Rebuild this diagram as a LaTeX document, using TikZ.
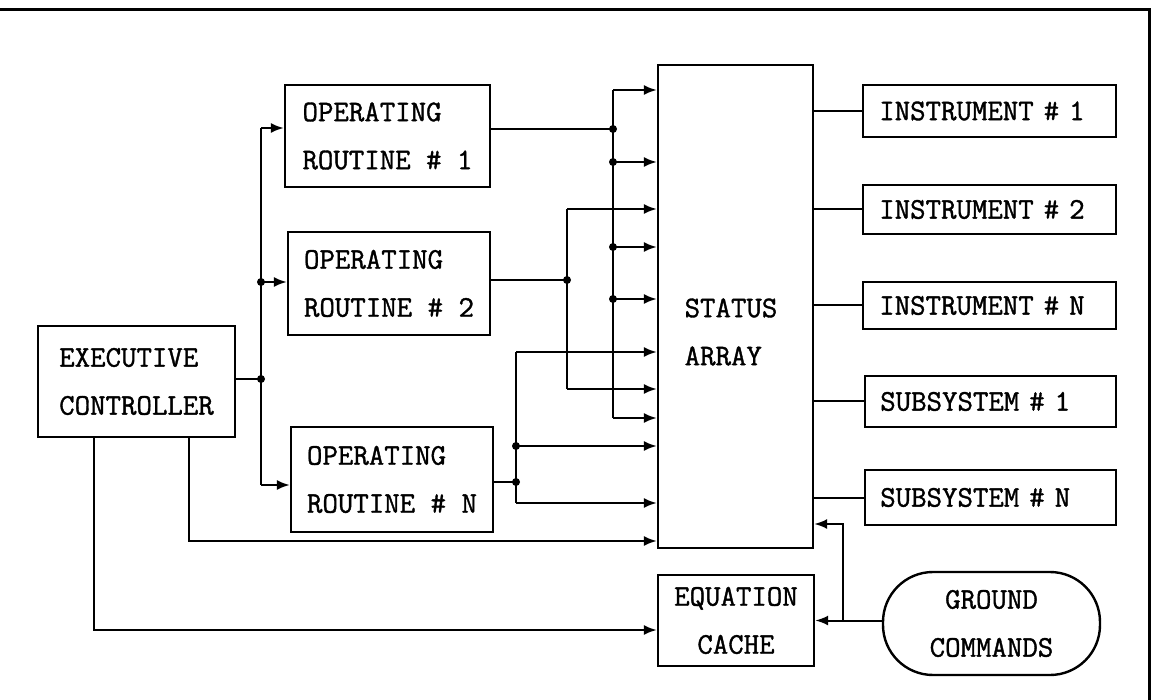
\documentclass[tikz,border=0pt]{standalone}
\usepackage{fontspec}
\newfontfamily\tw{Latin Modern Mono}[FakeBold=1.2]
\usetikzlibrary{arrows.meta}
\begin{document}
\begin{tikzpicture}[x=0.5pt,y=-0.5pt,line width=1pt,
  box/.style={draw,line width=1.2pt,font={\tw\fontsize{15}{24}\selectfont},align=left,inner sep=0pt},
  txt/.style={font={\tw\fontsize{15}{24}\selectfont},align=left,inner sep=0pt},
  arr/.style={-{Latex[length=6.5pt,width=5pt]}},
  dot/.style={circle,fill,inner sep=0pt,minimum size=4pt}]
\useasboundingbox (0,0) rectangle (1152,700);
% frame
\draw[line width=1.5pt] (0,10) -- (1149,10) -- (1149,700);
% boxes
\node[box,minimum width=98.5pt,minimum height=55.5pt] (exec) at (136.5,381.5) {EXECUTIVE\\CONTROLLER};
\node[box,minimum width=102.5pt,minimum height=51pt] (op1) at (387.5,136) {OPERATING\\ROUTINE \# 1};
\node[box,minimum width=101pt,minimum height=51.5pt] (op2) at (389,283.5) {OPERATING\\ROUTINE \# 2};
\node[box,minimum width=101pt,minimum height=52.5pt] (opN) at (392,479.5) {OPERATING\\ROUTINE \# N};
\node[draw,line width=1.2pt,minimum width=77.5pt,minimum height=241.5pt,inner sep=0pt] (status) at (735.5,306.5) {};
\node[txt] (stattxt) at (731,332) {STATUS\\ARRAY};
\node[box,text width=110.25pt,minimum width=126.5pt,minimum height=26pt] (inst1) at (989.5,111) {INSTRUMENT \# 1};
\node[box,text width=110.25pt,minimum width=126.5pt,minimum height=24.5pt] (inst2) at (989.5,209.5) {INSTRUMENT \# 2};
\node[box,text width=110.25pt,minimum width=126.5pt,minimum height=23.5pt] (instN) at (989.5,305.5) {INSTRUMENT \# N};
\node[box,text width=110.25pt,minimum width=125.5pt,minimum height=25.5pt] (sub1) at (990.5,401.5) {SUBSYSTEM \# 1};
\node[box,text width=110.25pt,minimum width=125.5pt,minimum height=27.5pt] (subN) at (990.5,497.5) {SUBSYSTEM \# N};
\node[box,align=center,minimum width=78pt,minimum height=45.5pt] (eq) at (736,620.5) {EQUATION\\CACHE};
\node[box,align=center,rounded corners=25pt,minimum width=108.5pt,minimum height=51.5pt] (gc) at (991.5,623.5) {GROUND\\COMMANDS};
% executive to routines
\coordinate (j0) at (261,379);
\coordinate (b1) at (261,128);
\coordinate (b2) at (261,282);
\coordinate (b3) at (261,485);
\draw (exec.east |- j0) -- (j0);
\draw (b1) -- (b3);
\draw[arr] (b1) -- (b1 -| op1.west);
\draw[arr] (b2) -- (b2 -| op2.west);
\draw[arr] (b3) -- (b3 -| opN.west);
% routine 1 outputs
\coordinate (c1) at (613,129);
\coordinate (c1t) at (613,90);
\coordinate (c1b) at (613,418);
\draw (op1.east |- c1) -- (c1);
\draw (c1t) -- (c1b);
\foreach \y [count=\i] in {90,162,247,299,418} {
  \coordinate (a\i) at (613,\y);
  \draw[arr] (a\i) -- (a\i -| status.west);
}
% routine 2 outputs
\coordinate (c2) at (567,280);
\coordinate (c2t) at (567,209);
\coordinate (c2b) at (567,389);
\draw (op2.east |- c2) -- (c2);
\draw (c2t) -- (c2b);
\draw[arr] (c2t) -- (c2t -| status.west);
\draw[arr] (c2b) -- (c2b -| status.west);
% routine N outputs
\coordinate (c3) at (516,482);
\coordinate (c3t) at (516,352);
\coordinate (c3m) at (516,446);
\coordinate (c3b) at (516,503);
\draw (opN.east |- c3) -- (c3);
\draw (c3t) -- (c3b);
\draw[arr] (c3t) -- (c3t -| status.west);
\draw[arr] (c3m) -- (c3m -| status.west);
\draw[arr] (c3b) -- (c3b -| status.west);
% junction dots
\foreach \p in {j0,b2,c1,a2,a3,a4,c2,c3,c3m} \node[dot] at (\p) {};
% executive lower connections
\coordinate (e1) at (189,541);
\coordinate (e2) at (94,630);
\draw[arr] (exec.south -| e1) -- (e1) -- (e1 -| status.west);
\draw[arr] (exec.south -| e2) -- (e2) -- (e2 -| eq.west);
% ground commands
\coordinate (g1) at (843,620.5);
\coordinate (g2) at (843,524);
\draw[arr] (gc.west |- eq.east) -- (eq.east);
\draw[arr] (g1) -- (g2) -- (g2 -| status.east);
% status to instruments / subsystems
\foreach \n in {inst1,inst2,instN,sub1,subN} \draw (status.east |- \n.west) -- (\n.west);
\end{tikzpicture}
\end{document}
